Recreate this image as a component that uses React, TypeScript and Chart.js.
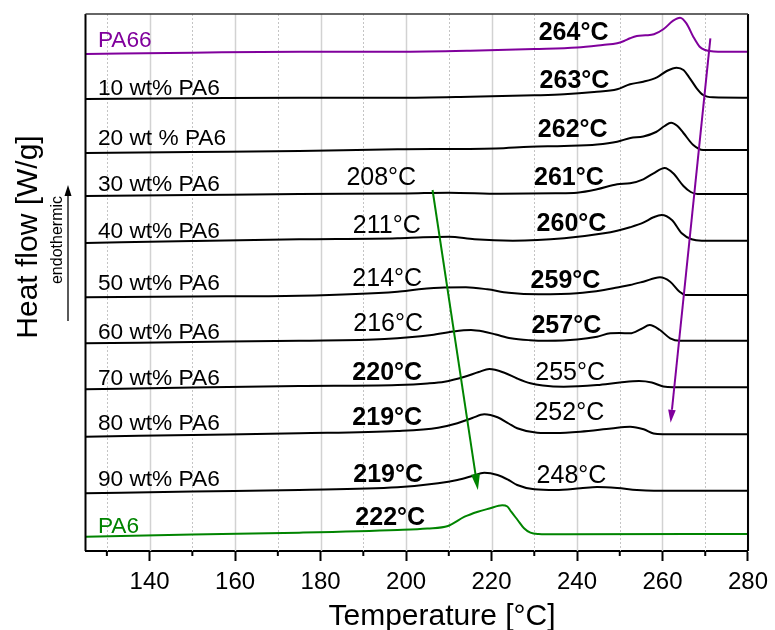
import { useEffect, useRef } from 'react';
import { Chart, registerables } from 'chart.js';

Chart.register(...registerables);

const FONT = '"Liberation Sans", Arial, Helvetica, sans-serif';

// x-axis ticks
const majorTicks = [140, 160, 180, 200, 220, 240, 260, 280];
const minorTicks = [130, 150, 170, 190, 210, 230, 250, 270];

// DSC curves (temperature °C, heat flow in stacked arbitrary units)
const pa66T = [125, 150, 175, 198, 215, 230, 240, 246, 249.4, 251, 252.4, 254, 256, 258, 260.2, 262.5, 264.1, 265.6, 267.2, 268.7, 270, 271, 273, 280];
const pa66V = [497, 498.3, 499.3, 499.3, 500.3, 502, 503.5, 506, 507.7, 510, 512.7, 515, 515.7, 516.7, 521.7, 530.3, 533.3, 527.7, 514.3, 504.3, 501, 500, 499.3, 499.3];

const pa6w10T = [125, 150, 175, 198, 215, 230, 237, 244, 249.4, 252.4, 255.5, 258.7, 261, 263.3, 264.9, 266.4, 268, 269.5, 271.8, 280];
const pa6w10V = [452, 452.7, 453.3, 453.3, 454.3, 455.7, 456.7, 459, 461.7, 466.7, 469.3, 473.7, 480, 483.3, 481, 472.7, 462.7, 456, 453.7, 453.3];

const pa6w20T = [125, 150, 175, 198, 221, 229, 237, 244.7, 249.4, 252.5, 255.5, 258.5, 260.5, 262, 263.5, 264.9, 267.2, 269.5, 272, 280];
const pa6w20V = [398, 399, 400, 401.7, 402.5, 404.3, 405, 406.5, 409.3, 413, 414.5, 419, 425, 428.3, 425, 418, 406, 401, 401, 401];

const pa6w30T = [125, 150, 175, 200, 210, 222, 235, 240, 244.7, 249.4, 252.4, 255.5, 257.9, 260.5, 262.5, 264.9, 266.6, 268.2, 280];
const pa6w30V = [355, 356, 357, 357.5, 358.3, 357.2, 357.7, 358.3, 361.7, 366.7, 367.7, 371.7, 377.7, 383, 377.7, 365, 359, 357, 357];

const pa6w40T = [125, 150, 175, 198, 204, 210, 216, 225, 237, 246.3, 249.4, 252.4, 255.5, 257.9, 259.8, 262.2, 264.5, 266.8, 269.2, 280];
const pa6w40V = [308, 310, 311.7, 312.7, 313.8, 314.3, 311.7, 310.3, 312.7, 317.7, 320.3, 323.7, 328.3, 333.7, 336, 331, 317.7, 311.7, 310.3, 310.3];

const pa6w50T = [125, 150, 175, 198, 203, 209, 214, 219, 224, 231, 240, 246.3, 249.4, 252.4, 255.5, 259.4, 261.8, 264, 265.5, 280];
const pa6w50V = [253.7, 254.5, 255.3, 259.3, 261.7, 263.5, 263.7, 261.7, 258.3, 256.7, 257.7, 261, 263.5, 266, 269.3, 273.7, 269.3, 259.3, 256, 256];

const pa6w60T = [125, 150, 175, 195, 206, 211, 215.2, 218.3, 221, 224.5, 229, 233, 240, 244.7, 247.8, 250, 252.4, 255, 257, 259.4, 261.8, 264.1, 280];
const pa6w60V = [207.7, 209, 210.3, 212, 216, 219.5, 221, 219.3, 216.5, 212.7, 210.8, 210.3, 211.5, 214.3, 217.7, 218, 217.7, 222, 226, 221, 212.7, 210.3, 210.3];

const pa6w70T = [125, 150, 175, 198, 205, 209, 213.7, 217, 219.5, 223, 226, 229.1, 232, 236.9, 244.7, 250, 254.5, 257.5, 260.2, 262.5, 280];
const pa6w70V = [161.7, 163.5, 165, 166, 167.5, 169.3, 174.3, 179, 182, 178.3, 172.5, 167.7, 165.5, 164.3, 166, 168.5, 170, 168.5, 164.5, 163.7, 163.7];

const pa6w80T = [125, 150, 175, 198, 207.5, 212, 215.5, 218.3, 221.4, 224, 226, 230.7, 235, 240.8, 248, 252.4, 255.6, 257.9, 260, 280];
const pa6w80V = [114.3, 116, 117.7, 120, 123.3, 127.7, 133, 136.7, 133.7, 127.5, 122.7, 118.3, 118, 119.3, 122.5, 124.3, 121.7, 117.5, 116.7, 116.7];

const pa6w90T = [125, 150, 175, 198, 207.5, 212, 215.5, 218.3, 221.4, 224, 226, 230, 235, 240.8, 244.7, 249.4, 254, 258, 280];
const pa6w90V = [57.7, 59.5, 61, 63.7, 67.7, 71, 75, 78.3, 76, 71, 66, 61.7, 61, 62.7, 64, 63, 61, 60.3, 60.3];

const pa6T = [125, 150, 175, 198, 205, 209.8, 213.7, 216.8, 219.5, 222.5, 223.7, 224.6, 226.1, 227.6, 229.1, 231, 235, 280];
const pa6V = [14.3, 16.5, 18.3, 21, 22.5, 25, 34.3, 39.3, 42.5, 45.7, 44.5, 39.3, 31, 22.7, 18.3, 17, 16.7, 17];

const PURPLE = '#80009c';
const GREEN = '#008400';
const BLACK = '#000000';

const seriesNames = ['PA66', '10 wt% PA6', '20 wt % PA6', '30 wt% PA6', '40 wt% PA6', '50 wt% PA6', '60 wt% PA6', '70 wt% PA6', '80 wt% PA6', '90 wt% PA6', 'PA6'];
const seriesTemps = [pa66T, pa6w10T, pa6w20T, pa6w30T, pa6w40T, pa6w50T, pa6w60T, pa6w70T, pa6w80T, pa6w90T, pa6T];
const seriesValues = [pa66V, pa6w10V, pa6w20V, pa6w30V, pa6w40V, pa6w50V, pa6w60V, pa6w70V, pa6w80V, pa6w90V, pa6V];
const seriesColors = [PURPLE, BLACK, BLACK, BLACK, BLACK, BLACK, BLACK, BLACK, BLACK, BLACK, GREEN];

// sample name labels: baseline heat-flow value (data units)
const sampleLabelY = [504, 456, 406, 360, 313, 261, 211.7, 166, 121, 65, 17.7];
const sampleLabelT = 127.9;

// peak temperature labels: [text, centre temperature, baseline value, bold]
const peakLabels: [string, number, number, boolean][] = [
  ['264°C', 239.2, 511, true],
  ['263°C', 239.4, 462.7, true],
  ['262°C', 239.0, 414.3, true],
  ['208°C', 194.2, 366, false],
  ['261°C', 238.1, 366, true],
  ['211°C', 195.5, 317.7, false],
  ['260°C', 238.7, 320, true],
  ['214°C', 195.6, 265, false],
  ['259°C', 237.3, 262.7, true],
  ['216°C', 195.8, 220, false],
  ['257°C', 237.5, 218.3, true],
  ['220°C', 195.6, 171, true],
  ['255°C', 238.4, 171, false],
  ['219°C', 195.6, 126, true],
  ['252°C', 238.2, 131, false],
  ['219°C', 195.8, 69.3, true],
  ['248°C', 238.7, 68.3, false],
  ['222°C', 196.3, 26, true],
];

// trend arrows: [fromT, fromV, toT, toV]
const greenArrow = [206.2, 361, 216.8, 61];
const purpleArrow = [271.2, 512.7, 261.9, 128.3];

function drawArrow(ctx: CanvasRenderingContext2D, x1: number, y1: number, x2: number, y2: number, color: string, headLen: number, headHalf: number) {
  const ang = Math.atan2(y2 - y1, x2 - x1);
  const bx = x2 - headLen * Math.cos(ang);
  const by = y2 - headLen * Math.sin(ang);
  ctx.save();
  ctx.strokeStyle = color;
  ctx.fillStyle = color;
  ctx.lineWidth = 2;
  ctx.beginPath();
  ctx.moveTo(x1, y1);
  ctx.lineTo(bx, by);
  ctx.stroke();
  ctx.beginPath();
  ctx.moveTo(x2, y2);
  ctx.lineTo(bx + headHalf * Math.sin(ang), by - headHalf * Math.cos(ang));
  ctx.lineTo(bx - headHalf * Math.sin(ang), by + headHalf * Math.cos(ang));
  ctx.closePath();
  ctx.fill();
  ctx.restore();
}

const decorPlugin = {
  id: 'decor',
  beforeDatasetsDraw(chart: any) {
    const { ctx, chartArea } = chart;
    const xs = chart.scales.x;
    ctx.save();
    majorTicks.forEach((t) => {
      const px = Math.round(xs.getPixelForValue(t)) + 0.5;
      ctx.strokeStyle = '#d2d2d2';
      ctx.lineWidth = 1.5;
      ctx.setLineDash([]);
      ctx.beginPath();
      ctx.moveTo(px, chartArea.top);
      ctx.lineTo(px, chartArea.bottom);
      ctx.stroke();
    });
    minorTicks.forEach((t) => {
      const px = Math.round(xs.getPixelForValue(t)) + 0.5;
      ctx.strokeStyle = '#c4c4c4';
      ctx.lineWidth = 1;
      ctx.setLineDash([2, 2]);
      ctx.beginPath();
      ctx.moveTo(px, chartArea.top);
      ctx.lineTo(px, chartArea.bottom);
      ctx.stroke();
    });
    ctx.restore();
  },
  afterDatasetsDraw(chart: any) {
    const { ctx, chartArea } = chart;
    const xs = chart.scales.x;
    const ys = chart.scales.y;
    ctx.save();
    // box
    ctx.strokeStyle = '#000';
    ctx.lineWidth = 2;
    ctx.beginPath();
    ctx.moveTo(chartArea.left, chartArea.bottom);
    ctx.lineTo(chartArea.left, chartArea.top);
    ctx.stroke();
    ctx.beginPath();
    ctx.moveTo(chartArea.right, chartArea.bottom);
    ctx.lineTo(chartArea.right, chartArea.top);
    ctx.stroke();
    ctx.strokeStyle = '#333';
    ctx.lineWidth = 1.5;
    ctx.beginPath();
    ctx.moveTo(chartArea.left, chartArea.top);
    ctx.lineTo(chartArea.right, chartArea.top);
    ctx.stroke();
    // minor tick marks
    ctx.strokeStyle = '#000';
    ctx.lineWidth = 2;
    minorTicks.forEach((t) => {
      const px = xs.getPixelForValue(t);
      ctx.beginPath();
      ctx.moveTo(px, chartArea.bottom);
      ctx.lineTo(px, chartArea.bottom + 5);
      ctx.stroke();
    });

    // sample labels
    ctx.textAlign = 'left';
    ctx.textBaseline = 'alphabetic';
    ctx.font = `22.7px ${FONT}`;
    seriesNames.forEach((name, i) => {
      ctx.fillStyle = seriesColors[i];
      ctx.fillText(name, xs.getPixelForValue(sampleLabelT), ys.getPixelForValue(sampleLabelY[i]));
    });

    // peak labels
    ctx.textAlign = 'center';
    ctx.fillStyle = '#000';
    peakLabels.forEach(([txt, t, v, bold]) => {
      ctx.font = `${bold ? 'bold ' : ''}25px ${FONT}`;
      ctx.fillText(txt, xs.getPixelForValue(t), ys.getPixelForValue(v));
    });

    // arrows
    drawArrow(ctx, xs.getPixelForValue(greenArrow[0]), ys.getPixelForValue(greenArrow[1]), xs.getPixelForValue(greenArrow[2]), ys.getPixelForValue(greenArrow[3]), GREEN, 16, 4.5);
    drawArrow(ctx, xs.getPixelForValue(purpleArrow[0]), ys.getPixelForValue(purpleArrow[1]), xs.getPixelForValue(purpleArrow[2]), ys.getPixelForValue(purpleArrow[3]), PURPLE, 13, 3.8);

    // axis titles
    ctx.fillStyle = '#000';
    ctx.font = `30px ${FONT}`;
    ctx.textAlign = 'center';
    ctx.fillText('Temperature [°C]', chartArea.left + 356.5, 625);

    ctx.save();
    ctx.translate(37, 237);
    ctx.rotate(-Math.PI / 2);
    ctx.fillText('Heat flow [W/g]', 0, 0);
    ctx.restore();

    ctx.save();
    ctx.translate(62, 240);
    ctx.rotate(-Math.PI / 2);
    ctx.font = `16px ${FONT}`;
    ctx.fillText('endothermic', 0, 0);
    ctx.restore();

    // endothermic arrow
    ctx.strokeStyle = '#000';
    ctx.lineWidth = 1.3;
    ctx.beginPath();
    ctx.moveTo(68, 321);
    ctx.lineTo(68, 195);
    ctx.stroke();
    ctx.fillStyle = '#000';
    ctx.beginPath();
    ctx.moveTo(68, 185);
    ctx.lineTo(64.5, 196);
    ctx.lineTo(71.5, 196);
    ctx.closePath();
    ctx.fill();
    ctx.restore();
  },
};

export default function App() {
  const canvasRef = useRef<HTMLCanvasElement | null>(null);

  useEffect(() => {
    const canvas = canvasRef.current;
    if (!canvas) return;
    const datasets = seriesNames.map((name, i) => ({
      label: name,
      data: seriesTemps[i].map((t, j) => ({ x: t, y: seriesValues[i][j] })),
      borderColor: seriesColors[i],
      backgroundColor: seriesColors[i],
      borderWidth: 2,
      pointRadius: 0,
      fill: false,
      cubicInterpolationMode: 'monotone' as const,
      tension: 0.4,
    }));
    const chart = new Chart(canvas, {
      type: 'line',
      data: { datasets },
      options: {
        responsive: false,
        animation: false,
        layout: { padding: { left: 85.5, right: 23.3, top: 14, bottom: 0 } },
        plugins: { legend: { display: false }, tooltip: { enabled: false } },
        scales: {
          x: {
            type: 'linear',
            min: 125,
            max: 280,
            afterBuildTicks: (scale: any) => {
              scale.ticks = majorTicks.map((v) => ({ value: v }));
            },
            afterFit: (scale: any) => {
              scale.height = 79;
            },
            ticks: {
              font: { family: FONT, size: 24 },
              color: '#000',
              padding: 7,
              maxRotation: 0,
              autoSkip: false,
              callback: (v: any) => String(v),
            },
            grid: {
              display: true,
              drawOnChartArea: false,
              drawTicks: true,
              tickLength: 10,
              tickWidth: 2,
              tickColor: '#000',
            },
            border: { display: true, color: '#000', width: 2 },
          },
          y: {
            type: 'linear',
            display: false,
            min: 0,
            max: 537,
          },
        },
      },
      plugins: [decorPlugin],
    });
    return () => chart.destroy();
  }, []);

  return (
    <div style={{ position: 'absolute', left: 0, top: 0, width: 775, height: 630, background: '#fff' }}>
      <canvas ref={canvasRef} width={775} height={630} style={{ display: 'block' }} />
    </div>
  );
}
